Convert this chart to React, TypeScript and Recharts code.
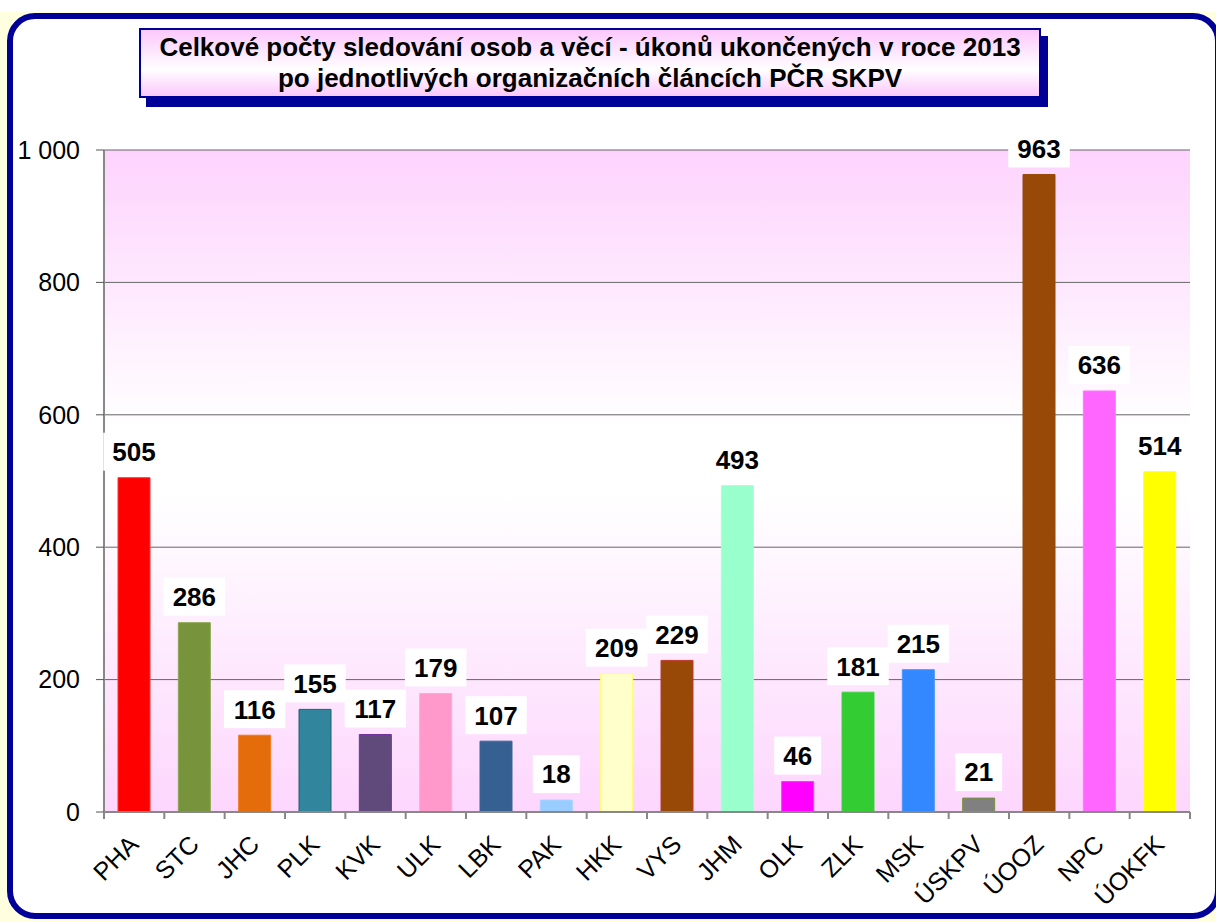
import { Bar, BarChart, CartesianGrid, Cell, LabelList, XAxis, YAxis } from "recharts";

const categories = ["PHA", "STC", "JHC", "PLK", "KVK", "ULK", "LBK", "PAK", "HKK", "VYS", "JHM", "OLK", "ZLK", "MSK", "ÚSKPV", "ÚOOZ", "NPC", "ÚOKFK"];
const counts = [505, 286, 116, 155, 117, 179, 107, 18, 209, 229, 493, 46, 181, 215, 21, 963, 636, 514];
const barColors = ["#FF0000", "#77933C", "#E46C0A", "#31859C", "#604A7B", "#FF99CC", "#376092", "#99CCFF", "#FFFFCC", "#984807", "#99FFCC", "#FF00FF", "#33CC33", "#3388FF", "#808080", "#984807", "#FF66FF", "#FFFF00"];
const barEdges = ["#FF3333", "#8AA650", "#F07A20", "#215F70", "#7030A0", "#FFA8D4", "#3A6496", "#A8D4FF", "#FFFF66", "#C0392B", "#A8FFD4", "#FF33FF", "#40D040", "#4A98FF", "#77933C", "#984807", "#FF77FF", "#FFFF33"];
const yTicks = [0, 200, 400, 600, 800, 1000];

const title1 = "Celkové počty sledování osob a věcí - úkonů ukončených v roce 2013";
const title2 = "po jednotlivých organizačních článcích PČR SKPV";

const data = categories.map((name, i) => ({ name, value: counts[i] }));

const FONT = "'Liberation Sans', Arial, sans-serif";
const PLOT_TOP = 150;

const fmt = (v: number) => String(v).replace(/\B(?=(\d{3})+(?!\d))/g, " ");

function XTick(props: any) {
  const { x, y, payload, index } = props;
  const half = payload?.offset ?? (1190 - 104) / categories.length / 2;
  const last = index === categories.length - 1;
  return (
    <g>
      <line x1={x - half} x2={x - half} y1={y} y2={y + 7} stroke="#888" strokeWidth={2} />
      {last && <line x1={x + half} x2={x + half} y1={y} y2={y + 7} stroke="#888" strokeWidth={2} />}
      <text
        x={x + 6}
        y={y + 34}
        textAnchor="end"
        transform={`rotate(-45, ${x + 6}, ${y + 34})`}
        fontFamily={FONT}
        fontSize={25}
        fill="#000"
      >
        {payload.value}
      </text>
    </g>
  );
}

function ValueLabel(props: any) {
  const { x, y, width, value } = props;
  const cx = x + width / 2;
  const cy = Math.max(y - 26, PLOT_TOP - 2);
  const w = String(value).length * 14.5 + 18;
  return (
    <g>
      <rect x={cx - w / 2} y={cy - 19} width={w} height={38} fill="#fff" />
      <text x={cx} y={cy} dy="0.36em" textAnchor="middle" fontFamily={FONT} fontWeight="bold" fontSize={26} fill="#000">
        {value}
      </text>
    </g>
  );
}

export default function App() {
  return (
    <div style={{ position: "absolute", left: 0, top: 0, width: 1216, height: 922, overflow: "hidden", background: "#fff" }}>
      <div style={{ position: "absolute", left: 0, top: 12, right: 0, bottom: 0, background: "#FFFFE0" }} />
      <div
        style={{
          position: "absolute",
          left: 7,
          top: 13,
          width: 1214,
          height: 906,
          boxSizing: "border-box",
          border: "6px solid #000099",
          borderRadius: 28,
          background: "#fff",
        }}
      />
      <div
        style={{
          position: "absolute",
          left: 146,
          top: 36,
          width: 902,
          height: 71,
          background: "#000099",
        }}
      />
      <div
        style={{
          position: "absolute",
          left: 139,
          top: 28,
          width: 902,
          height: 70,
          boxSizing: "border-box",
          border: "2px solid #000099",
          background: "linear-gradient(#FBC8FB, #FFFFFF 60%, #FBC8FB)",
          fontFamily: FONT,
          fontWeight: "bold",
          fontSize: 26,
          lineHeight: "31px",
          textAlign: "center",
          paddingTop: 2,
          color: "#000",
          whiteSpace: "nowrap",
        }}
      >
        <div>{title1}</div>
        <div>{title2}</div>
      </div>
      <div style={{ position: "absolute", left: 0, top: 0 }}>
        <BarChart
          width={1216}
          height={922}
          data={data}
          margin={{ top: PLOT_TOP, right: 26, bottom: 0, left: 0 }}
          barSize={32}
        >
          <defs>
            <linearGradient id="plotBg" x1="0" y1="0" x2="0" y2="1">
              <stop offset="0" stopColor="#FDD3FD" />
              <stop offset="0.42" stopColor="#FFFFFF" />
              <stop offset="0.52" stopColor="#FFFFFF" />
              <stop offset="1" stopColor="#FDD6FD" />
            </linearGradient>
          </defs>
          <CartesianGrid vertical={false} stroke="#666" strokeWidth={1} fill="url(#plotBg)" fillOpacity={1} />
          <XAxis
            dataKey="name"
            interval={0}
            height={110}
            tickLine={false}
            tickSize={0}
            tickMargin={0}
            axisLine={{ stroke: "#888", strokeWidth: 2 }}
            tick={<XTick />}
          />
          <YAxis
            width={104}
            domain={[0, 1000]}
            ticks={yTicks}
            interval={0}
            tickFormatter={fmt}
            tickSize={8}
            tickMargin={16}
            axisLine={{ stroke: "#888", strokeWidth: 2 }}
            tickLine={{ stroke: "#555" }}
            tick={{ fill: "#000", fontFamily: FONT, fontSize: 25 }}
          />
          <Bar dataKey="value" isAnimationActive={false}>
            {data.map((d, i) => (
              <Cell key={d.name} fill={barColors[i]} stroke={barEdges[i]} strokeWidth={1} />
            ))}
            <LabelList dataKey="value" content={<ValueLabel />} />
          </Bar>
        </BarChart>
      </div>
    </div>
  );
}
